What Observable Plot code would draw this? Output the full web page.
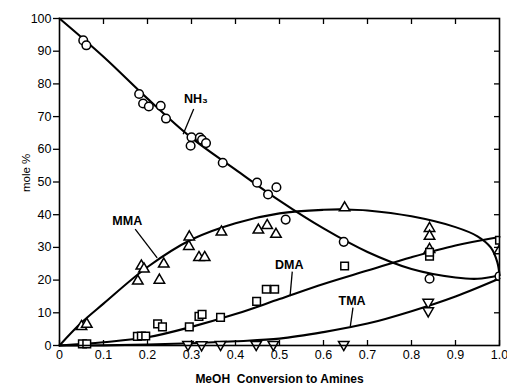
<!DOCTYPE html>
<html>
<head>
<meta charset="utf-8">
<script src="https://cdn.jsdelivr.net/npm/d3@7"></script>
<script src="https://cdn.jsdelivr.net/npm/@observablehq/plot@0.6"></script>
<style>
  html, body { margin: 0; padding: 0; background: #fff; }
  #chart svg { display: block; }
</style>
</head>
<body>
<div id="chart"></div>
<script>
// ---- Data (x = MeOH conversion, y = mole %) ----
const nh3Points = [[0.054,93.3],[0.061,91.8],[0.181,76.9],[0.190,74.0],[0.203,73.1],[0.230,73.3],[0.242,69.4],
  [0.300,63.7],[0.298,61.1],[0.319,63.6],[0.324,62.9],[0.333,61.9],[0.371,55.9],[0.449,49.8],[0.474,46.2],
  [0.493,48.4],[0.514,38.5],[0.646,31.7],[0.841,20.4]];
const mmaPoints = [[0.050,5.8],[0.062,6.5],[0.178,19.7],[0.186,24.3],[0.192,23.4],[0.227,20.0],[0.237,24.9],
  [0.294,30.3],[0.295,33.2],[0.317,26.9],[0.330,26.9],[0.368,34.7],[0.452,35.3],[0.472,36.7],[0.492,34.0],
  [0.648,42.1],[0.841,35.8],[0.841,33.4],[0.841,29.4]];
const dmaPoints = [[0.052,0.5],[0.062,0.5],[0.177,2.8],[0.186,2.9],[0.196,2.9],[0.223,6.6],[0.234,5.7],
  [0.295,5.7],[0.317,8.9],[0.324,9.5],[0.366,8.6],[0.448,13.5],[0.470,17.2],[0.489,17.2],[0.648,24.3],
  [0.841,27.3],[0.841,28.5]];
const tmaPoints = [[0.292,0.3],[0.323,0.2],[0.366,0.3],[0.447,0.3],[0.486,0.3],[0.646,0.3],[0.838,13.2],[0.838,10.6]];
// markers cut by the right-hand frame at x = 1.0
const edgeCircles = [[1.0,21.2]];
const edgeTriangles = [[1.0,29.0]];
const edgeSquares = [[1.0,32.2]];

// fitted curves
const nh3Curve = [[0,100],[0.1,88.3],[0.2,75.5],[0.3,63.5],[0.4,53.8],[0.5,44.3],[0.6,35.8],[0.7,28.6],
  [0.8,23.4],[0.9,20.8],[0.95,20.4],[1.0,21.5]];
const mmaCurve = [[0,0],[0.05,7],[0.1,12.8],[0.2,24],[0.3,32.4],[0.4,37.4],[0.5,40.4],[0.6,41.5],[0.65,41.6],
  [0.7,41.3],[0.8,39.5],[0.9,36.2],[0.95,33.4],[0.98,30],[0.995,25.5],[1.0,21.5]];
const dmaCurve = [[0,0],[0.1,1],[0.2,2.5],[0.3,5.7],[0.4,9.6],[0.5,14.2],[0.6,18.8],[0.7,22.9],[0.8,27],
  [0.9,30.6],[1.0,33.2]];
const tmaCurve = [[0,0],[0.1,0.05],[0.2,0.3],[0.3,0.7],[0.4,1.3],[0.5,2.1],[0.6,4.1],[0.7,6.7],[0.8,10.5],
  [0.9,15],[1.0,20.5]];

// curve labels and leader lines
const curveLabels = [
  {text: "NH₃", x: 0.31, y: 75.3},
  {text: "MMA", x: 0.154, y: 38.1},
  {text: "DMA", x: 0.522, y: 24.6},
  {text: "TMA", x: 0.665, y: 13.7}
];
const leaders = [
  {x1: 0.305, y1: 72.3, x2: 0.281, y2: 64.6},
  {x1: 0.172, y1: 35.6, x2: 0.222, y2: 26.8},
  {x1: 0.529, y1: 22.6, x2: 0.524, y2: 15.1},
  {x1: 0.667, y1: 11.6, x2: 0.661, y2: 5.9}
];

const xTicks = [0,0.1,0.2,0.3,0.4,0.5,0.6,0.7,0.8,0.9,1.0];
const xTickLabels = ["0","0.1","0.2","0.3","0.4","0.5","0.6","0.7","0.8","0.9","1.0"];
const yTicks = [0,10,20,30,40,50,60,70,80,90,100];
const xTitle = "MeOH  Conversion to Amines";
const yTitle = "mole %";

// ---- drawing ----
const triangleDown = {
  draw(context, size) {
    const s3 = Math.sqrt(3);
    const y = -Math.sqrt(size / (s3 * 3));
    context.moveTo(0, -y * 2);
    context.lineTo(-s3 * y, y);
    context.lineTo(s3 * y, y);
    context.closePath();
  }
};

const font = "'Liberation Sans', Arial, Helvetica, sans-serif";
const dotStyle = {x: d => d[0], y: d => d[1], stroke: "black", fill: "white", strokeWidth: 1.5};
const lineStyle = {x: d => d[0], y: d => d[1], stroke: "black", strokeWidth: 2.1, curve: "catmull-rom"};

const chart = Plot.plot({
  width: 507,
  height: 387,
  marginLeft: 59,
  marginRight: 8,
  marginTop: 18,
  marginBottom: 42,
  style: {fontFamily: font, fontSize: "12.5px", color: "black", background: "white"},
  x: {domain: [0, 1]},
  y: {domain: [0, 100]},
  marks: [
    Plot.line(nh3Curve, lineStyle),
    Plot.line(mmaCurve, lineStyle),
    Plot.line(dmaCurve, lineStyle),
    Plot.line(tmaCurve, lineStyle),
    Plot.link(leaders, {x1: "x1", y1: "y1", x2: "x2", y2: "y2", stroke: "black", strokeWidth: 1.3}),
    Plot.dot(nh3Points, {...dotStyle, symbol: "circle", r: 4.3}),
    Plot.dot(mmaPoints, {...dotStyle, symbol: "triangle", r: 3.9}),
    Plot.dot(dmaPoints, {...dotStyle, symbol: "square", r: 4.3}),
    Plot.dot(tmaPoints, {...dotStyle, symbol: triangleDown, r: 3.9}),
    Plot.dot(edgeCircles, {...dotStyle, symbol: "circle", r: 4.3, clip: true}),
    Plot.dot(edgeTriangles, {...dotStyle, symbol: "triangle", r: 3.9, clip: true}),
    Plot.dot(edgeSquares, {...dotStyle, symbol: "square", r: 4.3, clip: true}),
    Plot.text(curveLabels, {x: "x", y: "y", text: "text", fontSize: 12.5, fontWeight: 600, fill: "black", fontFamily: font}),
    Plot.frame({stroke: "black", strokeWidth: 1.6}),
    Plot.axisX({anchor: "bottom", ticks: xTicks, tickSize: -5, tickPadding: 10,
      tickFormat: (d, i) => xTickLabels[i], label: null, strokeWidth: 1.3, fontSize: 12.5}),
    Plot.axisX({anchor: "top", ticks: xTicks.slice(1, -1), tickSize: -5, tickFormat: () => "", label: null, strokeWidth: 1.3}),
    Plot.axisY({anchor: "left", ticks: yTicks, tickSize: 6, tickPadding: 2, label: null, strokeWidth: 1.3, fontSize: 12.5}),
    Plot.axisY({anchor: "right", ticks: yTicks.slice(1, -1), tickSize: -6, tickFormat: () => "", label: null, strokeWidth: 1.3}),
    Plot.text([xTitle], {frameAnchor: "bottom", dy: 37, text: d => d, fontSize: 12, fontWeight: 600, fill: "black", fontFamily: font}),
    Plot.text([yTitle], {frameAnchor: "left", dx: -33, dy: 10, rotate: -90, text: d => d, fontSize: 11.5, fill: "black", fontFamily: font})
  ]
});
document.getElementById("chart").appendChild(chart);
</script>
</body>
</html>
